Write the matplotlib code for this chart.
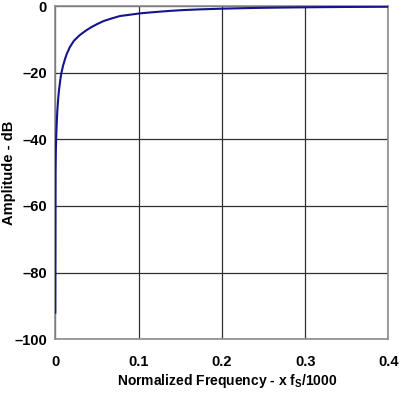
import matplotlib
matplotlib.use("Agg")
import matplotlib.pyplot as plt

# Font setup (Arial-like bold text, bold subscript in the x label)
plt.rcParams['font.family'] = ['Liberation Sans', 'DejaVu Sans']
plt.rcParams['mathtext.fontset'] = 'custom'
plt.rcParams['mathtext.rm'] = 'Liberation Sans:bold'
plt.rcParams['mathtext.bf'] = 'Liberation Sans:bold'

# Values
freq = [0.0, 0.0003, 0.0006, 0.0012, 0.0018, 0.0024, 0.0034, 0.0044, 0.0058,
        0.0072, 0.0092, 0.0114, 0.0137, 0.0175, 0.0224, 0.029, 0.0365,
        0.0435, 0.0504, 0.058, 0.068, 0.0777, 0.09, 0.1017, 0.12, 0.138,
        0.155, 0.174, 0.2, 0.225, 0.245, 0.275, 0.3, 0.35, 0.4]
amp_db = [-92, -50, -44, -38.5, -34.5, -31.5, -28, -25.3, -22.5,
          -20.2, -18.0, -16.1, -14.4, -12.3, -10.4, -8.8, -7.4,
          -6.3, -5.4, -4.5, -3.7, -3.0, -2.6, -2.2, -1.8, -1.45,
          -1.2, -1.0, -0.8, -0.65, -0.55, -0.45, -0.38, -0.28, -0.22]

x_ticks = [0, 0.1, 0.2, 0.3, 0.4]
x_labels = ['0', '0.1', '0.2', '0.3', '0.4']
y_ticks = [-100, -80, -60, -40, -20, 0]
y_labels = ['\u2013100', '\u201380', '\u201360', '\u201340', '\u201320', '0']

fig = plt.figure(figsize=(4.02, 3.96), dpi=100)
ax = fig.add_axes([0.1376, 0.1432, 0.8288, 0.8416])

ax.plot(freq, amp_db, color='#14148c', linewidth=1.5, zorder=3)

ax.set_xlim(0, 0.4)
ax.set_ylim(-100, 0)
ax.set_xticks(x_ticks)
ax.set_xticklabels(x_labels, fontsize=10.5, fontweight='bold')
ax.set_yticks(y_ticks)
ax.set_yticklabels(y_labels, fontsize=10.5, fontweight='bold')
ax.tick_params(axis='x', length=0, pad=11)
ax.tick_params(axis='y', length=0, pad=6)

ax.grid(True, color='#303030', linewidth=0.9)
for s in ax.spines.values():
    s.set_color('#8c8c8c')
    s.set_linewidth(1.2)

ax.set_xlabel(r'Normalized Frequency - x f$_\mathrm{S}$/1000',
              fontsize=10, fontweight='bold')
ax.xaxis.set_label_coords(0.515, -0.098)
ax.set_ylabel('Amplitude - dB', fontsize=10.5, fontweight='bold')
ax.yaxis.set_label_coords(-0.118, 0.5)

fig.savefig('out.png', dpi=100)
